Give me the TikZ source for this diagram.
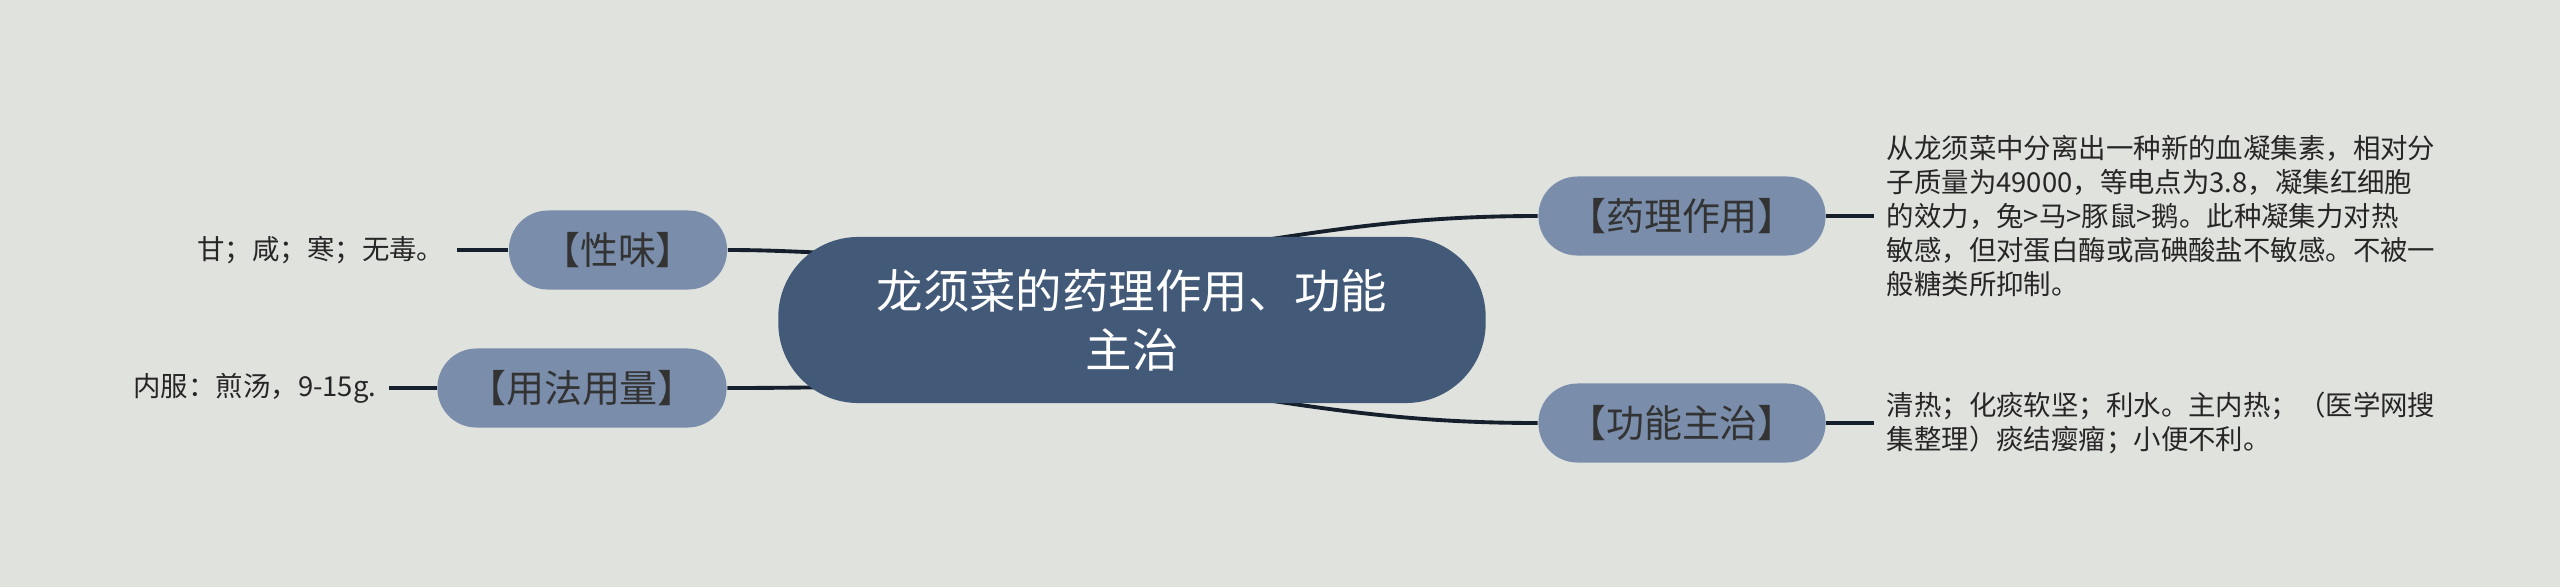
\documentclass[tikz,border=0pt]{standalone}
\usepackage{fontspec}
\setmainfont{Noto Sans CJK SC}
\usetikzlibrary{backgrounds}

\definecolor{bgcol}{RGB}{224,226,222}
\definecolor{rootcol}{RGB}{66,89,120}
\definecolor{topiccol}{RGB}{122,142,171}
\definecolor{linecol}{RGB}{22,32,45}

\begin{document}
\begin{tikzpicture}[x=0.01cm, y=0.01cm,
    root/.style={fill=rootcol, text=white, rounded corners=0.8cm, minimum width=7.07cm,
      minimum height=1.66cm, align=center, font=\fontsize{13.2}{16.8}\selectfont},
    topic/.style={fill=topiccol, text=black!80, rounded corners=0.39cm, minimum height=0.79cm,
      inner xsep=0pt, font=\fontsize{10.8}{13}\selectfont},
    leaf/.style={text=black!85, inner xsep=0.12cm, inner ysep=0pt, align=left,
      font=\fontsize{7.8}{9.6}\selectfont},
    link/.style={draw=linecol, line width=1.1pt}]
    \useasboundingbox (0,0) rectangle (2560,587);

    % centre and main branches
    \node[root] (root) at (1132,267) {龙须菜的药理作用、功能\\主治};
    \node[topic, minimum width=2.18cm] (xingwei) at (618,337) {【性味】};
    \node[topic, minimum width=2.89cm] (yongfa) at (582,199) {【用法用量】};
    \node[topic, minimum width=2.87cm] (yaoli) at (1682,371) {【药理作用】};
    \node[topic, minimum width=2.87cm] (gongneng) at (1682,164) {【功能主治】};

    % leaves
    \node[leaf, anchor=east] (xingweitxt) at (457,337) {甘；咸；寒；无毒。};
    \node[leaf, anchor=east] (yongfatxt) at (389,199) {内服：煎汤，9-15g.};
    \node[leaf, anchor=west] (yaolitxt) at (1874,371) {从龙须菜中分离出一种新的血凝集素，相对分\\
        子质量为49000，等电点为3.8，凝集红细胞\\
        的效力，兔>马>豚鼠>鹅。此种凝集力对热\\
        敏感，但对蛋白酶或高碘酸盐不敏感。不被一\\
        般糖类所抑制。};
    \node[leaf, anchor=west] (gongnengtxt) at (1874,164) {清热；化痰软坚；利水。主内热；（医学网搜\\
        集整理）痰结瘿瘤；小便不利。};

    \begin{scope}[on background layer]
        \fill[bgcol] (0,0) rectangle (2560,587);
        % connectors, hidden behind the centre
        \draw[link] ([shift={(-2.5cm,0.66cm)}]root.center) to[out=180, in=0] (xingwei.east);
        \draw[link] ([shift={(-2.5cm,-0.67cm)}]root.center) to[out=180, in=0] (yongfa.east);
        \draw[link] ([shift={(0.2cm,0.63cm)}]root.center) to[out=8, in=180] (yaoli.west);
        \draw[link] ([shift={(0.2cm,-0.63cm)}]root.center) to[out=-8, in=180] (gongneng.west);
        \draw[link] (xingwei.west) -- (xingweitxt.east);
        \draw[link] (yongfa.west) -- (yongfatxt.east);
        \draw[link] (yaoli.east) -- (yaolitxt.west);
        \draw[link] (gongneng.east) -- (gongnengtxt.west);
    \end{scope}
\end{tikzpicture}
\end{document}
